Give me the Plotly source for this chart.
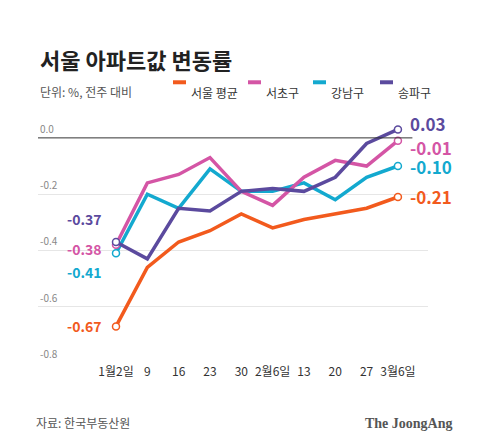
import plotly.graph_objects as go

# 서울 아파트값 주간 변동률 (%, 전주 대비)
weeks = ['1월2일', '9', '16', '23', '30', '2월6일', '13', '20', '27', '3월6일']
seoul = [-0.67, -0.46, -0.37, -0.33, -0.27, -0.32, -0.29, -0.27, -0.25, -0.21]
seocho = [-0.38, -0.16, -0.13, -0.07, -0.19, -0.24, -0.14, -0.08, -0.10, -0.01]
gangnam = [-0.41, -0.20, -0.25, -0.11, -0.19, -0.19, -0.16, -0.22, -0.14, -0.10]
songpa = [-0.37, -0.43, -0.25, -0.26, -0.19, -0.18, -0.19, -0.14, -0.02, 0.03]

names = ['서울 평균', '서초구', '강남구', '송파구']
colors = ['#f25a1d', '#d455a5', '#13a9cf', '#5b4a9e']
series = [seoul, seocho, gangnam, songpa]

FONT = 'Noto Sans CJK KR'
fig = go.Figure()

# draw order: orange, cyan, pink, purple on top
for i in [0, 2, 1, 3]:
    fig.add_trace(go.Scatter(x=list(range(len(weeks))), y=series[i], mode='lines',
                             line=dict(color=colors[i], width=3.5), showlegend=False))
    fig.add_trace(go.Scatter(x=[0, len(weeks) - 1], y=[series[i][0], series[i][-1]], mode='markers',
                             marker=dict(color='white', size=7, line=dict(color=colors[i], width=1.5)),
                             showlegend=False))

# y tick labels above grid lines
for v in [0.0, -0.2, -0.4, -0.6, -0.8]:
    fig.add_annotation(x=0, xref='paper', y=v, yref='y', text=f'{v:.1f}' if v else '0.0',
                       showarrow=False, xanchor='left', yanchor='bottom',
                       font=dict(size=10, color='#888', family=FONT))
# end labels
end_pos = [-0.21, -0.035, -0.10, 0.05]
for i in range(4):
    fig.add_annotation(x=len(weeks) - 1, y=end_pos[i], text=f'<b>{series[i][-1]:.2f}</b>', showarrow=False,
                       xanchor='left', xshift=10, font=dict(size=17, color=colors[i], family=FONT))
# start labels
start_pos = [-0.67, -0.395, -0.475, -0.29]
for i in range(4):
    fig.add_annotation(x=0, y=start_pos[i], text=f'<b>{series[i][0]:.2f}</b>', showarrow=False,
                       xanchor='right', xshift=-12, font=dict(size=14, color=colors[i], family=FONT))

fig.add_annotation(x=0.0, y=1.0, xref='paper', yref='paper', yshift=80, text='<b>서울 아파트값 변동률</b>',
                   showarrow=False, xanchor='left', font=dict(size=22, color='#222', family=FONT))
fig.add_annotation(x=0.0, y=1.0, xref='paper', yref='paper', yshift=40, text='단위: %, 전주 대비',
                   showarrow=False, xanchor='left', font=dict(size=12, color='#555', family=FONT))
leg_x = [165, 240, 305, 372]
shapes = []
for i in range(4):
    shapes.append(dict(type='line', xref='paper', yref='paper', x0=(leg_x[i] - 30) / 390, x1=(leg_x[i] - 17) / 390,
                       y0=1.16, y1=1.16, line=dict(color=colors[i], width=4)))
    fig.add_annotation(x=(leg_x[i] - 14) / 390, y=1.16, xref='paper', yref='paper', text=names[i],
                       showarrow=False, xanchor='left', font=dict(size=12, color='#333', family=FONT))
shapes.append(dict(type='line', xref='paper', yref='y', x0=0, x1=0.96, y0=0, y1=0,
                   line=dict(color='#333', width=1)))

fig.add_annotation(x=-0.01, y=0, xref='paper', yref='paper', yshift=-70, text='자료: 한국부동산원',
                   showarrow=False, xanchor='left', font=dict(size=12, color='#555', family=FONT))
fig.add_annotation(x=1.07, y=0, xref='paper', yref='paper', yshift=-70, text='<b>The JoongAng</b>',
                   showarrow=False, xanchor='right', font=dict(size=14, color='#555', family='Liberation Serif'))

fig.update_layout(
    width=480, height=440, plot_bgcolor='white', paper_bgcolor='white',
    margin=dict(l=30, r=60, t=113, b=85), shapes=shapes,
    xaxis=dict(range=[-2.49, 9.96], tickmode='array', tickvals=list(range(len(weeks))), ticktext=weeks,
               showgrid=False, zeroline=False, tickfont=dict(size=12, color='#333', family=FONT)),
    yaxis=dict(range=[-0.8, 0.06], tickvals=[-0.8, -0.6, -0.4, -0.2], showticklabels=False,
               gridcolor='#e6e6e6', zeroline=False),
)
fig.write_html('out.html')
